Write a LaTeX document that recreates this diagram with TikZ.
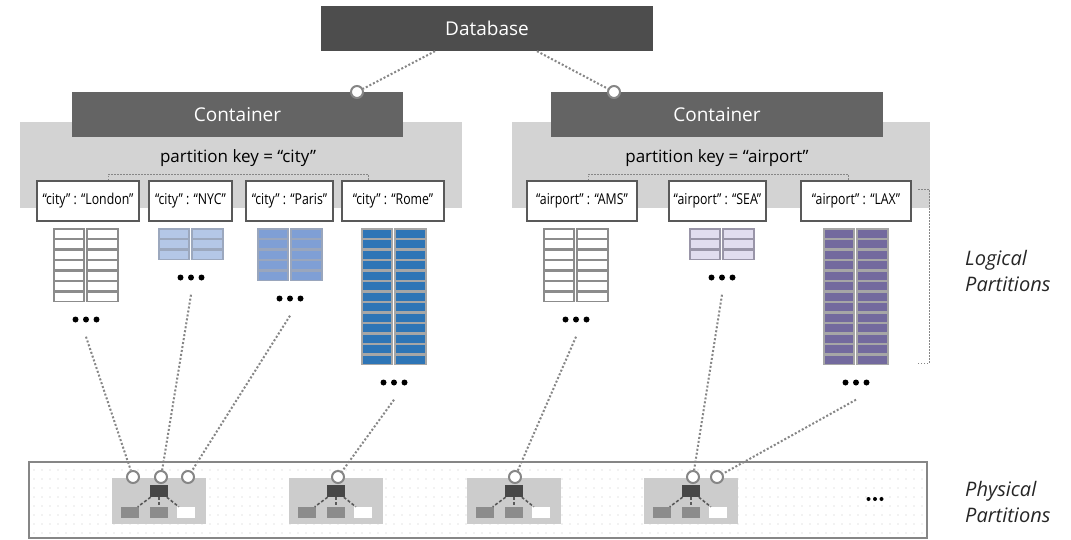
\documentclass[tikz,border=0pt]{standalone}
\usepackage{fontspec}
\setmainfont{Open Sans}
\newfontfamily\keyfont[FakeStretch=0.82]{Open Sans}
\definecolor{dbgray}{HTML}{4D4D4D}
\definecolor{contgray}{HTML}{646464}
\definecolor{panelgray}{HTML}{D3D3D3}
\definecolor{keyborder}{HTML}{595959}
\definecolor{linkgray}{HTML}{868686}
\definecolor{cellgray}{HTML}{8C8C8C}
\definecolor{nycblue}{HTML}{B4C7E7}
\definecolor{nycedge}{HTML}{9CA8BE}
\definecolor{parisblue}{HTML}{7F9FD5}
\definecolor{parisedge}{HTML}{9AA6BC}
\definecolor{romeblue}{HTML}{2E75B6}
\definecolor{romeedge}{HTML}{A6A6A6}
\definecolor{sealilac}{HTML}{E1DDEF}
\definecolor{seaedge}{HTML}{9995A8}
\definecolor{laxpurple}{HTML}{736A9E}
\definecolor{laxedge}{HTML}{A6A6A6}
\definecolor{partgray}{HTML}{CCCCCC}
\definecolor{mastergray}{HTML}{474747}
\definecolor{griddot}{HTML}{C8C8C8}
\usetikzlibrary{positioning}

\begin{document}
\begin{tikzpicture}[x=1pt, y=-1pt,
        every node/.style={inner sep=0pt},
        darkbox/.style={rectangle, text=white, minimum height=45,
                        font=\fontsize{19}{22}\selectfont},
        panel/.style={rectangle, fill=panelgray, minimum height=86},
        keybox/.style={rectangle, draw=keyborder, line width=1.2, fill=white,
                       minimum height=40, font=\keyfont\fontsize{15}{18}\selectfont},
        port/.style={circle, draw=linkgray, line width=2, fill=white, minimum size=12},
        link/.style={draw=linkgray, line width=2, dash pattern=on 2pt off 2pt},
        bracket/.style={draw=linkgray, line width=1, dash pattern=on 1.5pt off 1.5pt},
        ellipsisdots/.style={minimum width=32, minimum height=34,
                             path picture={\foreach \d in {-10.5,0,10.5}
                               \fill[black] ([xshift=\d]path picture bounding box.center) circle (3pt);}},
        smalldots/.style={minimum width=22, minimum height=8,
                          path picture={\foreach \d in {-6.5,0,6.5}
                            \fill[black] ([xshift=\d]path picture bounding box.center) circle (2pt);}},
        ppart/.style={rectangle, fill=partgray, minimum width=94, minimum height=46},
        pmaster/.style={rectangle, fill=mastergray, minimum width=18, minimum height=12},
        pchild/.style={rectangle, fill=cellgray, minimum width=18, minimum height=11},
        plink/.style={draw=keyborder, line width=1.6, dash pattern=on 3pt off 2pt},
        sidelabel/.style={anchor=west, align=left, text=black!85,
                          font=\itshape\fontsize{20}{26}\selectfont}]

    \useasboundingbox (0,0) rectangle (1071,539);
    \fill[white] (0,0) rectangle (1071,539);

    \node[darkbox, fill=dbgray, minimum width=332] (db) at (487,28.5) {Database};

    \node[panel, minimum width=442] (cityPanel) at (241,165) {};
    \node[panel, minimum width=418] (airPanel) at (721,165) {};
    \node[darkbox, fill=contgray, minimum width=331] (cityCont) at (237.5,114.5) {Container};
    \node[darkbox, fill=contgray, minimum width=332] (airCont) at (717,114.5) {Container};
    \node[font=\fontsize{17}{20}\selectfont] (cityKey) at (238,158) {partition key = “city”};
    \node[font=\fontsize{17}{20}\selectfont] (airKey) at (717,158) {partition key = “airport”};

    \node[port] (cityPort) at (357,92) {};
    \node[port] (airPort) at (614,92) {};
    \draw[link] ([xshift=-52]db.south) -- (cityPort);
    \draw[link] ([xshift=50]db.south) -- (airPort);

    \foreach \cx/\w/\txt/\nm in {88/102/{“city” : “London”}/lonkey,
                                 190.5/83/{“city” : “NYC”}/nyckey,
                                 289.5/87/{“city” : “Paris”}/parkey,
                                 393/102/{“city” : “Rome”}/romkey,
                                 582/110/{“airport” : “AMS”}/amskey,
                                 717.5/97/{“airport” : “SEA”}/seakey,
                                 856/110/{“airport” : “LAX”}/laxkey}
        \node[keybox, minimum width=\w] (\nm) at (\cx,201) {\txt};

    \draw[bracket] ([xshift=20]lonkey.north) -- ++(0,-6) -| ([xshift=-25]romkey.north);
    \draw[bracket] ([xshift=6]amskey.north) -- ++(0,-6) -| ([xshift=-8]laxkey.north);

    \foreach \cx/\n/\fc/\dc/\nm in {86/7/white/cellgray/lon, 191/3/nycblue/nycedge/nyc,
                                    290/5/parisblue/parisedge/par, 394/13/romeblue/romeedge/rom,
                                    576/7/white/cellgray/ams, 722/3/sealilac/seaedge/sea,
                                    856/13/laxpurple/laxedge/lax}{
        \foreach \r in {1,...,\n}{
            \filldraw[fill=\fc, draw=\dc, line width=1.1] (\cx-32,218.5+\r*10.5) rectangle ++(30,9.5);
            \filldraw[fill=\fc, draw=\dc, line width=1.1] (\cx+1,218.5+\r*10.5) rectangle ++(31,9.5);
        }
        \node[ellipsisdots] (\nm-dots) at (\cx,229+\n*10.5+17) {};
    }

    \draw[bracket] (918,189) -- (929,189) -- (929,363) -- (918,363);
    \node[sidelabel] (logical) at (965,271) {Logical\\Partitions};

    \node[rectangle, draw=linkgray, line width=1.2, fill=white,
          minimum width=898, minimum height=76] (phys) at (478,500) {};
    \foreach \gx in {34,42,...,922}
        \foreach \gy in {470,479,...,533}
            \fill[griddot] (\gx,\gy) circle (0.6pt);

    \foreach \cx/\nm in {159/pp1, 336/pp2, 514/pp3, 691/pp4}{
        \node[ppart] (\nm) at (\cx,501) {};
        \node[pmaster] (\nm-m) at (\cx,491) {};
        \node[pchild] (\nm-a) at (\cx-29,512.5) {};
        \node[pchild] (\nm-b) at (\cx,512.5) {};
        \node[pchild, fill=white] (\nm-c) at (\cx+27,512.5) {};
        \draw[plink] (\nm-m) -- (\nm-a);
        \draw[plink] (\nm-m) -- (\nm-b);
        \draw[plink] (\nm-m) -- (\nm-c);
    }

    \node[port] (p1a) at (133,477) {};
    \node[port] (p1b) at (161,477) {};
    \node[port] (p1c) at (188,477) {};
    \node[port] (p2) at (338,477) {};
    \node[port] (p3) at (515,477) {};
    \node[port] (p4a) at (693,477) {};
    \node[port] (p4b) at (717,477) {};

    \draw[link] (lon-dots.south) -- (p1a);
    \draw[link] (nyc-dots.south) -- (p1b);
    \draw[link] (par-dots.south) -- (p1c);
    \draw[link] (rom-dots.south) -- (p2);
    \draw[link] (ams-dots.south) -- (p3);
    \draw[link] (sea-dots.south) -- (p4a);
    \draw[link] (lax-dots.south) -- (p4b);

    \node[smalldots] (more) at (875,499) {};
    \node[sidelabel] (physical) at (965,502) {Physical\\Partitions};
\end{tikzpicture}
\end{document}
